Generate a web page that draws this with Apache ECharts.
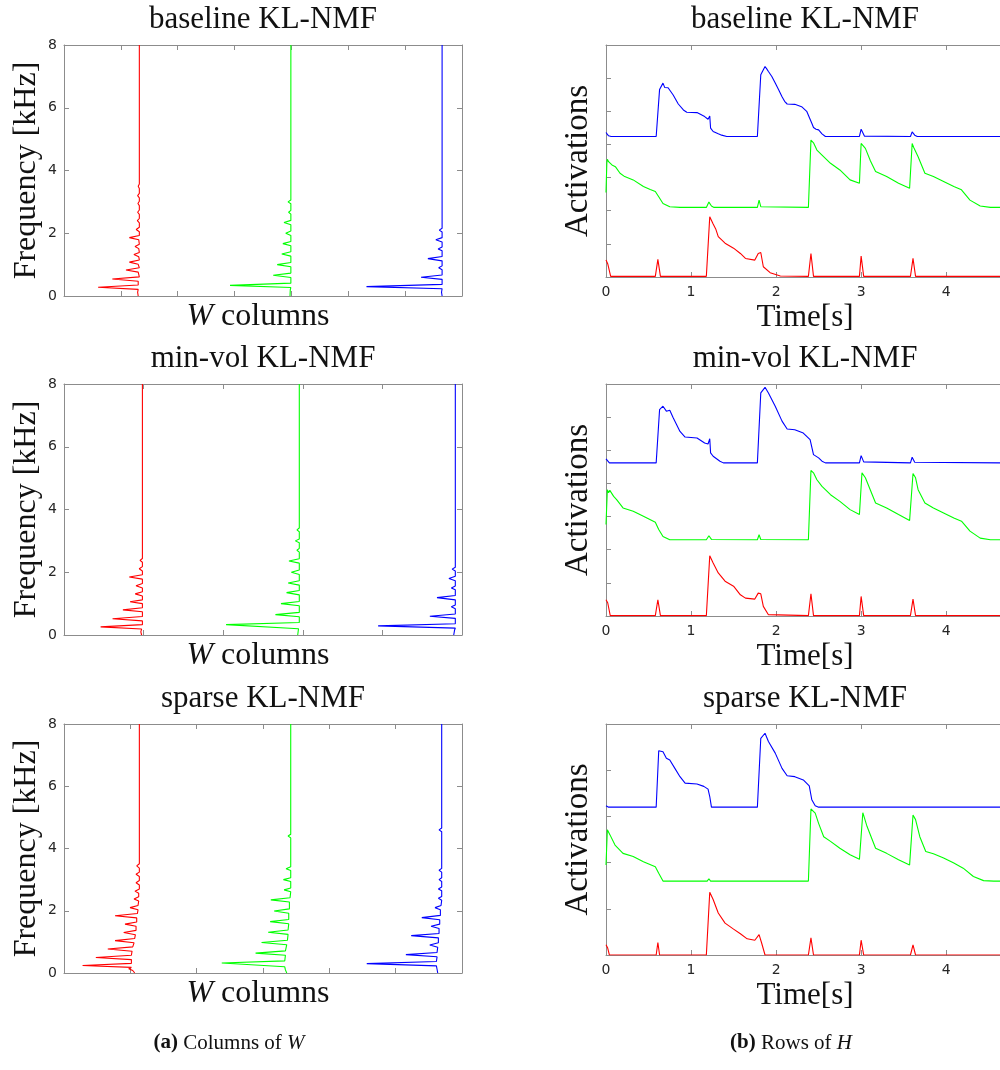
<!DOCTYPE html>
<html><head><meta charset="utf-8">
<script src="https://cdn.jsdelivr.net/npm/echarts@6/dist/echarts.min.js"></script>
<style>html,body{margin:0;padding:0;background:#fff}#c{width:1000px;height:1070px}</style>
</head><body><div id="c"></div>
<script>
// ---------------- DATA ----------------
const panelTitles = ['baseline KL-NMF', 'min-vol KL-NMF', 'sparse KL-NMF'];
const freqTickLabels = ['0', '2', '4', '6', '8'];
const timeTickLabels = ['0', '1', '2', '3', '4'];
const wAxisMax = [7, 5, 6];          // horizontal extent of each W panel (offset units)
const hAxisMax = [7, 7, 5];          // vertical extent of each H panel (offset units)
const timeMax = 4.68;
// baseline (zero-amplitude) position of each W column, per panel: [red, green, blue]
const wOffsets = [[1.325, 3.99, 6.65], [0.985, 2.956, 4.916], [1.136, 3.418, 5.694]];

// W columns: [frequency kHz, leftward amplitude]
const wBaseRed = [[0,0.02],[0.12,0.03],[0.21,0.02],[0.28,0.725],[0.35,0.02],[0.47,0.02],[0.54,0.475],[0.61,0],[0.76,0.02],[0.83,0.235],[0.90,0],[1.01,0.02],[1.08,0.175],[1.15,0],[1.25,0.01],[1.32,0.095],[1.39,0],[1.51,0.01],[1.58,0.075],[1.65,0],[1.79,0.01],[1.86,0.175],[1.93,0],[2.05,0],[2.12,0.055],[2.19,0],[2.33,0],[2.40,0.035],[2.47,0],[2.60,0],[2.67,0.03],[2.74,0],[2.88,0],[2.95,0.025],[3.02,0],[3.13,0],[3.2,0.03],[3.27,0],[3.43,0],[3.5,0.02],[3.57,0],[3.7,0],[3.76,0.015],[3.82,0],[3.95,0],[4.0,0.01],[4.05,0],[8,0]];
const wBaseGreen = [[0,0.015],[0.2,0.01],[0.27,0],[0.34,1.07],[0.41,0],[0.59,0],[0.66,0.31],[0.73,0],[0.93,0],[1.0,0.24],[1.07,0],[1.27,0],[1.34,0.16],[1.41,0],[1.60,0],[1.67,0.14],[1.74,0],[1.93,0],[2.0,0.09],[2.07,0],[2.27,0],[2.34,0.12],[2.41,0],[2.61,0],[2.67,0.04],[2.73,0],[2.94,0],[3.0,0.05],[3.06,0],[3.28,0],[3.34,0.02],[3.40,0],[3.62,0],[3.67,0.015],[3.72,0],[8,0]];
const wBaseBlue = [[0,0],[0.12,0.01],[0.23,0],[0.30,1.33],[0.37,0],[0.53,0],[0.60,0.37],[0.67,0],[0.84,0],[0.90,0.06],[0.96,0],[1.12,0],[1.19,0.25],[1.26,0],[1.44,0],[1.50,0.07],[1.56,0],[1.72,0],[1.79,0.11],[1.86,0],[2.04,0],[2.10,0.05],[2.16,0],[2.34,0],[2.40,0.02],[2.46,0],[2.94,0],[3.0,0.02],[3.06,0],[3.54,0],[3.6,0.015],[3.66,0],[4.52,0],[4.58,0.012],[4.64,0],[8,0]];

const wMinRed = [[0,0.01],[0.1,0.02],[0.19,0.01],[0.26,0.525],[0.33,0],[0.45,0],[0.52,0.375],[0.59,0],[0.74,0],[0.80,0.245],[0.87,0],[1.0,0],[1.06,0.155],[1.12,0],[1.24,0],[1.31,0.09],[1.38,0],[1.50,0],[1.57,0.08],[1.64,0],[1.78,0],[1.85,0.165],[1.92,0],[2.04,0],[2.11,0.04],[2.18,0],[2.32,0],[2.38,0.03],[2.44,0],[2.6,0],[2.66,0.025],[2.72,0],[2.88,0],[2.94,0.02],[3.0,0],[3.16,0],[3.22,0.025],[3.28,0],[3.44,0],[3.5,0.015],[3.56,0],[8,0]];
const wMinGreen = [[0,0.02],[0.2,0.01],[0.26,0],[0.33,0.92],[0.40,0],[0.58,0],[0.65,0.30],[0.72,0],[0.93,0],[1.0,0.23],[1.07,0],[1.28,0],[1.35,0.16],[1.42,0],[1.59,0],[1.66,0.14],[1.73,0],[1.93,0],[2.0,0.10],[2.07,0],[2.29,0],[2.36,0.13],[2.43,0],[2.64,0],[2.7,0.03],[2.76,0],[2.94,0],[3.0,0.05],[3.06,0],[3.29,0],[3.35,0.03],[3.41,0],[8,0]];
const wMinBlue = [[0,0.02],[0.15,0.01],[0.22,0],[0.29,0.97],[0.36,0],[0.53,0],[0.60,0.32],[0.67,0],[0.84,0],[0.9,0.05],[0.96,0],[1.12,0],[1.19,0.23],[1.26,0],[1.44,0],[1.5,0.05],[1.56,0],[1.73,0],[1.80,0.08],[1.87,0],[2.04,0],[2.1,0.04],[2.16,0],[8,0]];

const wSpRed = [[0,0.07],[0.08,0.10],[0.14,0.16],[0.18,0.12],[0.24,0.856],[0.31,0.12],[0.43,0.12],[0.50,0.656],[0.57,0.12],[0.70,0.11],[0.77,0.476],[0.84,0.10],[0.97,0.08],[1.04,0.366],[1.11,0.07],[1.23,0.06],[1.30,0.236],[1.37,0.05],[1.50,0.05],[1.57,0.216],[1.64,0.04],[1.77,0.04],[1.84,0.366],[1.91,0.03],[2.03,0.02],[2.10,0.14],[2.17,0.02],[2.31,0.01],[2.38,0.08],[2.45,0.01],[2.56,0.01],[2.63,0.066],[2.70,0],[2.83,0],[2.9,0.05],[2.97,0],[3.10,0],[3.17,0.05],[3.24,0],[3.37,0],[3.44,0.04],[3.51,0],[3.64,0],[3.7,0.03],[3.76,0],[3.91,0],[3.97,0.02],[4.03,0],[4.16,0],[4.22,0.01],[4.28,0],[8,0]];
const wSpGreen = [[0,0.06],[0.1,0.08],[0.2,0.09],[0.25,0.09],[0.32,1.04],[0.39,0.09],[0.57,0.08],[0.64,0.53],[0.71,0.08],[0.91,0.06],[0.98,0.44],[1.05,0.05],[1.24,0.04],[1.31,0.34],[1.38,0.04],[1.58,0.03],[1.65,0.31],[1.72,0.03],[1.92,0.03],[1.99,0.25],[2.06,0.02],[2.28,0.02],[2.35,0.30],[2.42,0.01],[2.61,0],[2.67,0.1],[2.73,0],[2.94,0],[3.0,0.11],[3.06,0],[3.29,0],[3.35,0.07],[3.41,0],[3.64,0],[3.7,0.03],[3.76,0],[3.99,0],[4.05,0.03],[4.11,0],[4.34,0],[4.4,0.04],[4.46,0],[4.69,0],[4.75,0.02],[4.81,0],[8,0]];
const wSpBlue = [[0,0.06],[0.12,0.07],[0.23,0.08],[0.30,1.13],[0.37,0.08],[0.52,0.07],[0.59,0.54],[0.66,0.07],[0.83,0.06],[0.90,0.18],[0.97,0.05],[1.13,0.05],[1.20,0.46],[1.27,0.04],[1.43,0.04],[1.5,0.16],[1.57,0.03],[1.71,0.03],[1.78,0.30],[1.85,0.02],[2.03,0.02],[2.1,0.10],[2.17,0.01],[2.34,0],[2.4,0.05],[2.46,0],[2.64,0],[2.7,0.05],[2.76,0],[2.94,0],[3.0,0.04],[3.06,0],[3.24,0],[3.3,0.04],[3.36,0],[3.54,0],[3.6,0.03],[3.66,0],[3.94,0],[4.0,0.03],[4.06,0],[4.54,0],[4.6,0.04],[4.66,0],[8,0]];

// H rows: [time s, stacked activation]
const hBaseBlue = [[0,4.36],[0.03,4.26],[0.06,4.24],[0.59,4.24],[0.63,5.66],[0.65,5.72],[0.67,5.85],[0.69,5.72],[0.71,5.75],[0.73,5.71],[0.79,5.49],[0.85,5.22],[0.91,5.04],[0.95,4.97],[1.07,4.96],[1.16,4.84],[1.20,4.76],[1.21,4.80],[1.22,4.86],[1.23,4.49],[1.26,4.39],[1.28,4.42],[1.32,4.32],[1.36,4.28],[1.42,4.24],[1.78,4.24],[1.82,6.10],[1.84,6.15],[1.87,6.35],[1.89,6.28],[1.91,6.20],[1.95,6.05],[1.99,5.85],[2.03,5.65],[2.07,5.44],[2.10,5.30],[2.13,5.22],[2.22,5.21],[2.30,5.14],[2.36,5.00],[2.38,4.94],[2.42,4.64],[2.44,4.51],[2.47,4.46],[2.50,4.44],[2.54,4.32],[2.58,4.24],[2.98,4.24],[3.0,4.46],[3.02,4.40],[3.04,4.25],[3.58,4.24],[3.60,4.38],[3.63,4.28],[3.66,4.24],[4.68,4.24]];
const hBaseGreen = [[0,2.55],[0.01,3.45],[0.016,3.55],[0.03,3.48],[0.04,3.52],[0.07,3.38],[0.11,3.33],[0.165,3.13],[0.22,3.03],[0.32,2.93],[0.44,2.73],[0.52,2.64],[0.58,2.58],[0.62,2.42],[0.67,2.22],[0.75,2.12],[0.87,2.10],[1.18,2.10],[1.21,2.26],[1.24,2.14],[1.27,2.10],[1.78,2.10],[1.80,2.32],[1.82,2.12],[2.38,2.10],[2.41,4.13],[2.44,4.05],[2.46,4.03],[2.48,3.83],[2.54,3.68],[2.64,3.43],[2.75,3.23],[2.87,2.93],[2.98,2.83],[3.0,4.03],[3.05,3.88],[3.11,3.50],[3.17,3.18],[3.30,3.03],[3.44,2.83],[3.57,2.68],[3.60,4.03],[3.62,3.90],[3.64,3.93],[3.67,3.63],[3.75,3.13],[3.85,3.03],[3.97,2.88],[4.09,2.73],[4.18,2.63],[4.28,2.32],[4.40,2.14],[4.52,2.10],[4.68,2.10]];
const hBaseRed = [[0,0.51],[0.02,0.40],[0.055,0.02],[0.58,0.02],[0.61,0.53],[0.64,0.02],[1.18,0.02],[1.22,1.82],[1.26,1.60],[1.29,1.45],[1.32,1.22],[1.40,1.02],[1.50,0.87],[1.58,0.71],[1.64,0.56],[1.75,0.51],[1.79,0.71],[1.82,0.74],[1.85,0.31],[1.93,0.13],[2.05,0.03],[2.38,0.02],[2.41,0.71],[2.44,0.02],[2.98,0.02],[3.0,0.63],[3.03,0.02],[3.58,0.02],[3.61,0.56],[3.64,0.02],[4.68,0.02]];

const hMinBlue = [[0,4.74],[0.04,4.62],[0.59,4.62],[0.63,6.23],[0.67,6.33],[0.71,6.18],[0.75,6.21],[0.79,5.98],[0.87,5.57],[0.93,5.40],[1.07,5.37],[1.16,5.22],[1.20,5.19],[1.22,5.35],[1.23,4.92],[1.26,4.82],[1.34,4.67],[1.38,4.62],[1.78,4.62],[1.82,6.73],[1.84,6.75],[1.87,6.90],[1.91,6.73],[1.99,6.33],[2.07,5.88],[2.13,5.64],[2.22,5.62],[2.32,5.52],[2.40,5.32],[2.44,4.87],[2.50,4.77],[2.54,4.67],[2.58,4.62],[2.98,4.62],[3.0,4.84],[3.03,4.65],[3.58,4.62],[3.60,4.79],[3.63,4.64],[4.68,4.62]];
const hMinGreen = [[0,2.76],[0.016,3.81],[0.03,3.72],[0.045,3.79],[0.09,3.61],[0.125,3.51],[0.20,3.26],[0.32,3.16],[0.44,3.01],[0.58,2.83],[0.62,2.61],[0.67,2.40],[0.75,2.30],[1.18,2.30],[1.21,2.42],[1.24,2.31],[1.78,2.30],[1.80,2.45],[1.82,2.31],[2.38,2.30],[2.41,4.39],[2.44,4.32],[2.46,4.34],[2.48,4.11],[2.54,3.91],[2.64,3.66],[2.75,3.46],[2.87,3.21],[2.98,3.06],[3.01,4.32],[3.05,4.17],[3.17,3.41],[3.30,3.26],[3.44,3.06],[3.57,2.88],[3.61,4.30],[3.64,4.17],[3.67,3.81],[3.75,3.41],[3.85,3.26],[3.97,3.11],[4.09,2.96],[4.18,2.86],[4.28,2.56],[4.40,2.35],[4.52,2.30],[4.68,2.30]];
const hMinRed = [[0,0.49],[0.02,0.40],[0.05,0.01],[0.58,0.01],[0.61,0.49],[0.64,0.01],[1.18,0.01],[1.22,1.82],[1.26,1.60],[1.32,1.30],[1.40,1.05],[1.50,0.90],[1.58,0.64],[1.64,0.54],[1.75,0.51],[1.79,0.69],[1.82,0.67],[1.85,0.29],[1.91,0.04],[2.38,0.01],[2.41,0.67],[2.44,0.01],[2.98,0.01],[3.0,0.59],[3.03,0.01],[3.58,0.01],[3.61,0.51],[3.64,0.01],[4.68,0.01]];

const hSpBlue = [[0,3.23],[0.03,3.20],[0.59,3.20],[0.62,4.42],[0.64,4.43],[0.67,4.40],[0.71,4.26],[0.75,4.22],[0.81,4.04],[0.87,3.86],[0.93,3.72],[1.07,3.70],[1.15,3.65],[1.20,3.59],[1.22,3.43],[1.24,3.20],[1.78,3.20],[1.82,4.69],[1.84,4.72],[1.87,4.80],[1.91,4.62],[1.99,4.37],[2.07,4.04],[2.13,3.88],[2.22,3.86],[2.32,3.79],[2.39,3.66],[2.42,3.36],[2.46,3.23],[2.50,3.20],[2.98,3.20],[3.0,3.24],[3.02,3.20],[3.58,3.20],[3.6,3.24],[3.62,3.20],[4.68,3.20]];
const hSpGreen = [[0,1.95],[0.016,2.71],[0.047,2.60],[0.106,2.38],[0.20,2.20],[0.32,2.13],[0.44,2.02],[0.58,1.91],[0.62,1.77],[0.67,1.60],[1.19,1.60],[1.21,1.65],[1.23,1.60],[1.79,1.60],[1.80,1.63],[1.81,1.60],[2.38,1.60],[2.41,3.16],[2.46,3.07],[2.50,2.85],[2.56,2.56],[2.64,2.46],[2.75,2.31],[2.87,2.17],[2.98,2.07],[3.02,3.08],[3.07,2.78],[3.17,2.31],[3.30,2.20],[3.44,2.06],[3.57,1.95],[3.61,3.03],[3.64,2.93],[3.69,2.56],[3.76,2.24],[3.85,2.19],[3.97,2.10],[4.09,1.99],[4.20,1.88],[4.32,1.70],[4.44,1.61],[4.56,1.60],[4.68,1.60]];
const hSpRed = [[0,0.22],[0.02,0.15],[0.04,0],[0.59,0],[0.61,0.27],[0.63,0],[1.18,0],[1.22,1.36],[1.26,1.20],[1.32,0.91],[1.40,0.69],[1.50,0.56],[1.58,0.46],[1.66,0.35],[1.75,0.32],[1.80,0.44],[1.83,0.26],[1.87,0],[2.38,0],[2.41,0.37],[2.44,0],[2.98,0],[3.0,0.32],[3.03,0],[3.58,0],[3.61,0.22],[3.64,0],[4.68,0]];

const wCurves = [[wBaseRed, wBaseGreen, wBaseBlue], [wMinRed, wMinGreen, wMinBlue], [wSpRed, wSpGreen, wSpBlue]];
const hCurves = [[hBaseRed, hBaseGreen, hBaseBlue], [hMinRed, hMinGreen, hMinBlue], [hSpRed, hSpGreen, hSpBlue]];
const curveColors = ['#ff0000', '#00ff00', '#0000ff'];

// ---------------- LAYOUT ----------------
const rowsL = [[45, 251], [384, 251], [724, 249]];
const rowsR = [[45, 232], [384, 232], [724, 231]];
const LEFT_L = 64, LEFT_R = 606, W = 398;
const AX = '#8c8c8c', TICKTXT = '#262626', TXT = '#111111';
const SERIF = 'Liberation Serif', SANS = 'DejaVu Sans';

const grids = [], xAxes = [], yAxes = [], series = [], graphics = [];

function axisBase(gi, min, max, interval) {
  return {
    type: 'value', gridIndex: gi, min: min, max: max, interval: interval,
    axisLine: { show: true, onZero: false, lineStyle: { color: AX, width: 1 } },
    axisTick: { show: true, inside: true, length: 5, lineStyle: { color: AX, width: 1 } },
    splitLine: { show: false }, axisLabel: { show: false }
  };
}

for (let r = 0; r < 3; r++) {
  // ---- W panel ----
  let gi = grids.length;
  grids.push({ left: LEFT_L, top: rowsL[r][0], width: W, height: rowsL[r][1], containLabel: false, outerBoundsMode: 'none' });
  const xi = xAxes.length;
  xAxes.push(Object.assign(axisBase(gi, 0, wAxisMax[r], 1), { position: 'bottom' }));
  xAxes.push(Object.assign(axisBase(gi, 0, wAxisMax[r], 1), { position: 'top' }));
  const yi = yAxes.length;
  yAxes.push(Object.assign(axisBase(gi, 0, 8, 2), {
    position: 'left',
    axisLabel: { show: true, margin: 7, fontSize: 14, fontFamily: SANS, color: TICKTXT,
      formatter: function (v) { const i = freqTickLabels.indexOf(String(v)); return i >= 0 ? freqTickLabels[i] : ''; } }
  }));
  yAxes.push(Object.assign(axisBase(gi, 0, 8, 2), { position: 'right' }));
  for (let k = 0; k < 3; k++) {
    const off = wOffsets[r][k];
    series.push({
      type: 'line', xAxisIndex: xi, yAxisIndex: yi, showSymbol: false, symbol: 'none', clip: true,
      lineStyle: { color: curveColors[k], width: 1.1 }, itemStyle: { color: curveColors[k] },
      data: wCurves[r][k].map(function (p) { return [off - p[1], p[0]]; })
    });
  }
  // ---- H panel ----
  gi = grids.length;
  grids.push({ left: LEFT_R, top: rowsR[r][0], width: W, height: rowsR[r][1], containLabel: false, outerBoundsMode: 'none' });
  const xj = xAxes.length;
  xAxes.push(Object.assign(axisBase(gi, 0, timeMax, 1), {
    position: 'bottom',
    axisLabel: { show: true, margin: 8, fontSize: 14, fontFamily: SANS, color: TICKTXT, showMaxLabel: false,
      formatter: function (v) { const i = timeTickLabels.indexOf(String(v)); return i >= 0 ? timeTickLabels[i] : ''; } }
  }));
  xAxes.push(Object.assign(axisBase(gi, 0, timeMax, 1), { position: 'top' }));
  const yj = yAxes.length;
  yAxes.push(Object.assign(axisBase(gi, 0, hAxisMax[r], 1), { position: 'left' }));
  yAxes.push(Object.assign(axisBase(gi, 0, hAxisMax[r], 1), { position: 'right', axisTick: { show: false } }));
  for (let k = 0; k < 3; k++) {
    series.push({
      type: 'line', xAxisIndex: xj, yAxisIndex: yj, showSymbol: false, symbol: 'none', clip: true,
      lineStyle: { color: curveColors[k], width: 1.1 }, itemStyle: { color: curveColors[k] },
      data: hCurves[r][k]
    });
  }

  // ---- texts ----
  const tL = rowsL[r][0], hL = rowsL[r][1], tR = rowsR[r][0], hR = rowsR[r][1];
  const titleY = tL - 25;
  graphics.push({ type: 'text', x: LEFT_L + W / 2, y: titleY, style: { text: panelTitles[r], fontFamily: SERIF, fontSize: 31, fill: TXT, align: 'center', verticalAlign: 'middle' } });
  graphics.push({ type: 'text', x: LEFT_R + W / 2, y: titleY, style: { text: panelTitles[r], fontFamily: SERIF, fontSize: 31, fill: TXT, align: 'center', verticalAlign: 'middle' } });
  graphics.push({ type: 'text', x: 27, y: tL + hL / 2, rotation: Math.PI / 2, style: { text: 'Frequency [kHz]', fontFamily: SERIF, fontSize: 32, fill: TXT, align: 'center', verticalAlign: 'middle' } });
  graphics.push({ type: 'text', x: 578, y: tR + hR / 2, rotation: Math.PI / 2, style: { text: 'Activations', fontFamily: SERIF, fontSize: 33, fill: TXT, align: 'center', verticalAlign: 'middle' } });
  graphics.push({ type: 'text', x: 258, y: tL + hL + 21, style: { text: '{i|W} columns', fontFamily: SERIF, fontSize: 32, fill: TXT, align: 'center', verticalAlign: 'middle',
    rich: { i: { fontFamily: SERIF, fontStyle: 'italic', fontSize: 32, fill: TXT } } } });
  graphics.push({ type: 'text', x: LEFT_R + W / 2, y: tR + hR + 41, style: { text: 'Time[s]', fontFamily: SERIF, fontSize: 31, fill: TXT, align: 'center', verticalAlign: 'middle' } });
}

graphics.push({ type: 'text', x: 229, y: 1043, style: { text: '{b|(a)} Columns of {i|W}', fontFamily: SERIF, fontSize: 21, fill: TXT, align: 'center', verticalAlign: 'middle',
  rich: { b: { fontFamily: SERIF, fontWeight: 'bold', fontSize: 21, fill: TXT }, i: { fontFamily: SERIF, fontStyle: 'italic', fontSize: 21, fill: TXT } } } });
graphics.push({ type: 'text', x: 791, y: 1043, style: { text: '{b|(b)} Rows of {i|H}', fontFamily: SERIF, fontSize: 21, fill: TXT, align: 'center', verticalAlign: 'middle',
  rich: { b: { fontFamily: SERIF, fontWeight: 'bold', fontSize: 21, fill: TXT }, i: { fontFamily: SERIF, fontStyle: 'italic', fontSize: 21, fill: TXT } } } });

const chart = echarts.init(document.getElementById('c'), null, { renderer: 'canvas' });
chart.setOption({
  animation: false, backgroundColor: '#ffffff',
  grid: grids, xAxis: xAxes, yAxis: yAxes, series: series, graphic: graphics
});
</script></body></html>
